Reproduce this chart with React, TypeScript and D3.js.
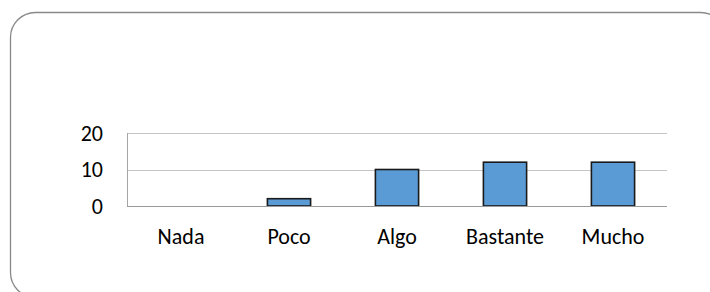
import React, { useRef, useEffect } from "react";
import * as d3 from "d3";

const categories = ["Nada", "Poco", "Algo", "Bastante", "Mucho"];
const values = [0, 2, 10, 12, 12];
const yTicks = [0, 10, 20];

const W = 710;
const H = 292;
const FONT = "Calibri, Carlito, 'Open Sans', sans-serif";

const App = () => {
  const svgRef = useRef<SVGSVGElement>(null);

  useEffect(() => {
    const svg = d3.select(svgRef.current);
    svg.selectAll("*").remove();

    // plot area
    const left = 127;
    const right = 667;
    const top = 133;
    const bottom = 206;

    // outer chart frame, clipped by the window on the right and bottom
    svg
      .append("rect")
      .attr("x", 10.5)
      .attr("y", 12.5)
      .attr("width", 715)
      .attr("height", 285)
      .attr("rx", 25)
      .attr("fill", "#fff")
      .attr("stroke", "#898989")
      .attr("stroke-width", 1.3);

    const x = d3.scaleBand().domain(categories).range([left, right]).paddingInner(0.6).paddingOuter(0.3);
    const y = d3.scaleLinear().domain([0, 20]).range([bottom, top]);

    // gridlines
    svg
      .append("g")
      .selectAll("line")
      .data(yTicks.filter((t) => t !== 0))
      .join("line")
      .attr("x1", left)
      .attr("x2", right)
      .attr("y1", (d) => Math.round(y(d)) + 0.5)
      .attr("y2", (d) => Math.round(y(d)) + 0.5)
      .attr("stroke", "#c6c6c6")
      .attr("stroke-width", 1);

    // y axis line
    svg
      .append("line")
      .attr("x1", left + 0.5)
      .attr("x2", left + 0.5)
      .attr("y1", top)
      .attr("y2", bottom)
      .attr("stroke", "#a6a6a6");

    // y tick labels
    svg
      .append("g")
      .selectAll("text")
      .data(yTicks)
      .join("text")
      .attr("x", 103)
      .attr("y", (d) => y(d))
      .attr("dy", "0.36em")
      .attr("text-anchor", "end")
      .attr("font-family", FONT)
      .attr("font-size", 22)
      .attr("fill", "#000")
      .text((d) => d);

    // bars
    svg
      .append("g")
      .selectAll("rect")
      .data(values)
      .join("rect")
      .attr("x", (d, i) => x(categories[i])!)
      .attr("y", (d) => y(d))
      .attr("width", x.bandwidth())
      .attr("height", (d) => bottom - y(d))
      .attr("fill", "#5b9bd5")
      .attr("stroke", (d) => (d > 0 ? "#1a1a1a" : "none"))
      .attr("stroke-width", 1.6);

    // x axis line
    svg
      .append("line")
      .attr("x1", left)
      .attr("x2", right)
      .attr("y1", bottom + 0.5)
      .attr("y2", bottom + 0.5)
      .attr("stroke", "#999");

    // category labels
    svg
      .append("g")
      .selectAll("text")
      .data(categories)
      .join("text")
      .attr("x", (d) => x(d)! + x.bandwidth() / 2)
      .attr("y", 244)
      .attr("text-anchor", "middle")
      .attr("font-family", FONT)
      .attr("font-size", 22)
      .attr("fill", "#000")
      .text((d) => d);
  }, []);

  return (
    <svg
      ref={svgRef}
      width={W}
      height={H}
      style={{ position: "absolute", left: 0, top: 0, background: "#fff" }}
    ></svg>
  );
};

export default App;
